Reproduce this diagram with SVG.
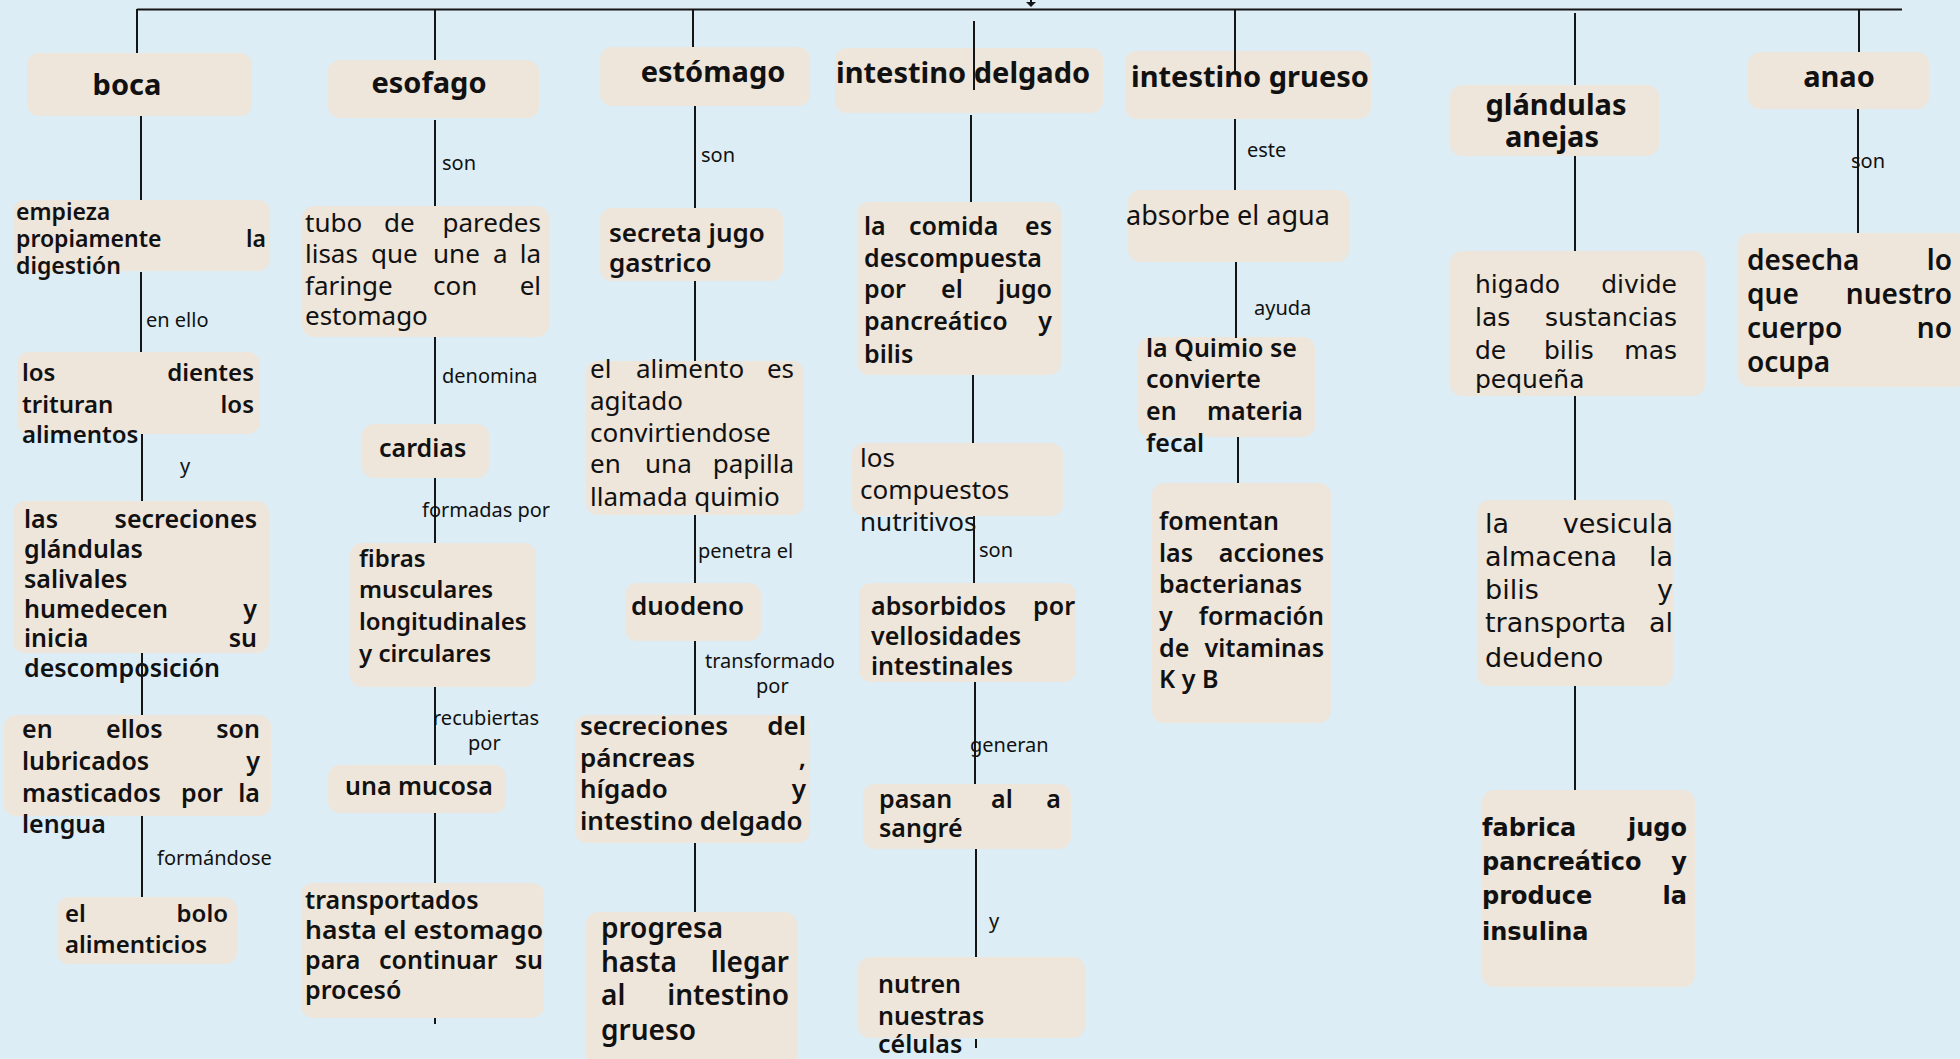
<svg xmlns="http://www.w3.org/2000/svg" width="1960" height="1059" viewBox="0 0 1960 1059">
<style>
text{font-family:"Noto Sans","Open Sans","Liberation Sans",sans-serif;fill:#111}
.box{fill:#EEE5DB}
.h{font-size:29px;font-weight:700}
.s{font-weight:600}
.r{font-weight:400}
.lbl{font-size:20px;font-weight:400}
.e{text-anchor:end}
.m{text-anchor:middle}
.dv{font-family:"DejaVu Sans","Noto Sans",sans-serif}
.ln{stroke:#151515;stroke-width:2;fill:none}
</style>
<rect width="1960" height="1059" fill="#DCEDF5"/>

<g id="boca"><rect class="box" x="27" y="53" width="225" height="63" rx="12"/><text class="h m" x="127" y="95">boca</text></g>
<g id="n_empieza" class="s" font-size="23"><rect class="box" x="13" y="200" width="257" height="71" rx="12"/>
<text x="16" y="220">empieza</text><text x="16" y="247">propiamente</text><text class="e" x="266" y="247">la</text><text x="16" y="274">digestión</text></g>
<g id="n_dientes" class="s" font-size="24"><rect class="box" x="17" y="352" width="243" height="82" rx="12"/>
<text x="22" y="381">los</text><text class="e" x="254" y="381">dientes</text><text x="22" y="413">trituran</text><text class="e" x="254" y="413">los</text><text x="22" y="443">alimentos</text></g>
<g id="n_secreciones" class="s" font-size="25"><rect class="box" x="13" y="501" width="256" height="152" rx="12"/>
<text x="24" y="528">las</text><text class="e" x="257" y="528">secreciones</text><text x="24" y="558">glándulas</text><text x="24" y="588">salivales</text><text x="24" y="618">humedecen</text><text class="e" x="257" y="618">y</text><text x="24" y="647">inicia</text><text class="e" x="257" y="647">su</text><text x="24" y="677">descomposición</text></g>
<g id="n_lubricados" class="s" font-size="25"><rect class="box" x="4" y="715" width="267" height="101" rx="12"/>
<text x="22" y="738">en</text><text x="106" y="738">ellos</text><text class="e" x="260" y="738">son</text><text x="22" y="770">lubricados</text><text class="e" x="260" y="770">y</text><text x="22" y="802">masticados</text><text x="181" y="802">por</text><text class="e" x="260" y="802">la</text><text x="22" y="833">lengua</text></g>
<g id="n_bolo" class="s" font-size="24"><rect class="box" x="57" y="897" width="180" height="67" rx="12"/>
<text x="65" y="922">el</text><text class="e" x="228" y="922">bolo</text><text x="65" y="953">alimenticios</text></g>

<g id="esofago"><rect class="box" x="328" y="60" width="211" height="58" rx="12"/><text class="h m" x="429" y="93">esofago</text></g>
<g id="n_tubo" class="r" font-size="26"><rect class="box" x="302" y="206" width="247" height="131" rx="12"/>
<text x="305" y="232">tubo</text><text x="384" y="232">de</text><text class="e" x="541" y="232">paredes</text>
<text x="305" y="263">lisas</text><text x="371" y="263">que</text><text x="433" y="263">une</text><text x="493" y="263">a</text><text class="e" x="541" y="263">la</text>
<text x="305" y="295">faringe</text><text x="433" y="295">con</text><text class="e" x="541" y="295">el</text><text x="305" y="325">estomago</text></g>
<g id="n_cardias" class="s" font-size="25"><rect class="box" x="362" y="424" width="127" height="54" rx="12"/><text x="379" y="457">cardias</text></g>
<g id="n_fibras" class="s" font-size="24"><rect class="box" x="350" y="543" width="186" height="144" rx="12"/>
<text x="359" y="567">fibras</text><text x="359" y="598">musculares</text><text x="359" y="630">longitudinales</text><text x="359" y="662">y circulares</text></g>
<g id="n_mucosa" class="s" font-size="25"><rect class="box" x="328" y="765" width="178" height="48" rx="12"/><text x="345" y="795">una mucosa</text></g>
<g id="n_transportados" class="s" font-size="25"><rect class="box" x="301" y="883" width="243" height="135" rx="12"/>
<text x="305" y="909">transportados</text><text x="305" y="939" textLength="238" lengthAdjust="spacingAndGlyphs">hasta el estomago</text>
<text x="305" y="969">para</text><text x="379" y="969">continuar</text><text class="e" x="543" y="969">su</text><text x="305" y="999">procesó</text></g>

<g id="estomago"><rect class="box" x="600" y="47" width="210" height="59" rx="12"/><text class="h m" x="713" y="82">estómago</text></g>
<g id="n_secreta" class="s" font-size="26"><rect class="box" x="600" y="208" width="183" height="73" rx="12"/>
<text x="609" y="242">secreta jugo</text><text x="609" y="272">gastrico</text></g>
<g id="n_alimento" class="r" font-size="26"><rect class="box" x="586" y="361" width="218" height="154" rx="12"/>
<text x="590" y="378">el</text><text x="636" y="378">alimento</text><text class="e" x="794" y="378">es</text><text x="590" y="410">agitado</text><text x="590" y="442">convirtiendose</text>
<text x="590" y="473">en</text><text x="645" y="473">una</text><text class="e" x="794" y="473">papilla</text><text x="590" y="506">llamada quimio</text></g>
<g id="n_duodeno" class="s" font-size="26"><rect class="box" x="625" y="583" width="136" height="58" rx="12"/><text x="631" y="615">duodeno</text></g>
<g id="n_pancreas" class="s" font-size="26"><rect class="box" x="575" y="715" width="235" height="128" rx="12"/>
<text x="580" y="735">secreciones</text><text class="e" x="806" y="735">del</text><text x="580" y="767">páncreas</text><text class="e" x="806" y="767">,</text>
<text x="580" y="798">hígado</text><text class="e" x="806" y="798">y</text><text x="580" y="830">intestino delgado</text></g>
<g id="n_progresa" class="s" font-size="28"><rect class="box" x="586" y="912" width="211" height="160" rx="12"/>
<text x="601" y="938">progresa</text><text x="601" y="972">hasta</text><text class="e" x="789" y="972">llegar</text><text x="601" y="1005">al</text><text class="e" x="789" y="1005">intestino</text><text x="601" y="1040">grueso</text></g>

<g id="intestino_delgado"><rect class="box" x="835" y="48" width="268" height="65" rx="12"/><text class="h" x="836" y="83">intestino delgado</text></g>
<g id="n_comida" class="s" font-size="25"><rect class="box" x="857" y="202" width="204" height="173" rx="12"/>
<text x="864" y="235">la</text><text x="909" y="235">comida</text><text class="e" x="1052" y="235">es</text><text x="864" y="267">descompuesta</text>
<text x="864" y="298">por</text><text x="941" y="298">el</text><text class="e" x="1052" y="298">jugo</text><text x="864" y="330">pancreático</text><text class="e" x="1052" y="330">y</text><text x="864" y="363">bilis</text></g>
<g id="n_compuestos" class="r" font-size="26"><rect class="box" x="852" y="443" width="211" height="73" rx="12"/>
<text x="860" y="467">los</text><text x="860" y="499">compuestos</text><text x="860" y="531">nutritivos</text></g>
<g id="n_absorbidos" class="s" font-size="25"><rect class="box" x="859" y="583" width="217" height="99" rx="12"/>
<text x="871" y="615">absorbidos</text><text class="e" x="1075" y="615">por</text><text x="871" y="645">vellosidades</text><text x="871" y="675">intestinales</text></g>
<g id="n_sangre" class="s" font-size="25"><rect class="box" x="863" y="784" width="208" height="65" rx="12"/>
<text x="879" y="808">pasan</text><text x="991" y="808">al</text><text class="e" x="1061" y="808">a</text><text x="879" y="837">sangré</text></g>
<g id="n_nutren" class="s" font-size="25"><rect class="box" x="858" y="957" width="227" height="81" rx="12"/>
<text x="878" y="993">nutren</text><text x="878" y="1025">nuestras</text><text x="878" y="1053">células</text></g>

<g id="intestino_grueso"><rect class="box" x="1125" y="51" width="246" height="68" rx="12"/><text class="h" x="1131" y="87">intestino grueso</text></g>
<g id="n_agua" class="r" font-size="27"><rect class="box" x="1128" y="190" width="221" height="72" rx="12"/><text x="1126" y="225">absorbe el agua</text></g>
<g id="n_quimio" class="s" font-size="25"><rect class="box" x="1138" y="337" width="177" height="100" rx="12"/>
<text x="1146" y="357">la Quimio se</text><text x="1146" y="388">convierte</text><text x="1146" y="420">en</text><text class="e" x="1303" y="420">materia</text><text x="1146" y="452">fecal</text></g>
<g id="n_fomentan" class="s" font-size="25"><rect class="box" x="1152" y="483" width="179" height="240" rx="12"/>
<text x="1159" y="530">fomentan</text><text x="1159" y="562">las</text><text class="e" x="1324" y="562">acciones</text><text x="1159" y="593">bacterianas</text>
<text x="1159" y="625">y</text><text class="e" x="1324" y="625">formación</text><text x="1159" y="657">de</text><text class="e" x="1324" y="657">vitaminas</text><text x="1159" y="688">K y B</text></g>

<g id="glandulas_anejas"><rect class="box" x="1450" y="85" width="209" height="71" rx="12"/><text class="h m" x="1556" y="115">glándulas</text><text class="h m" x="1552" y="147">anejas</text></g>
<g id="n_higado" class="r dv" font-size="25"><rect class="box" x="1450" y="251" width="255" height="145" rx="12"/>
<text class="dv" x="1475" y="293">higado</text><text class="dv e" x="1677" y="293">divide</text><text class="dv" x="1475" y="326">las</text><text class="dv e" x="1677" y="326">sustancias</text>
<text class="dv" x="1475" y="359">de</text><text class="dv" x="1544" y="359">bilis</text><text class="dv e" x="1677" y="359">mas</text><text class="dv" x="1475" y="388">pequeña</text></g>
<g id="n_vesicula" class="r" font-size="27"><rect class="box" x="1477" y="500" width="196" height="186" rx="12"/>
<text class="dv" x="1485" y="533">la</text><text class="dv e" x="1673" y="533">vesicula</text><text class="dv" x="1485" y="566">almacena</text><text class="dv e" x="1673" y="566">la</text>
<text class="dv" x="1485" y="599">bilis</text><text class="dv e" x="1673" y="599">y</text><text class="dv" x="1485" y="632">transporta</text><text class="dv e" x="1673" y="632">al</text><text class="dv" x="1485" y="667">deudeno</text></g>
<g id="n_fabrica" font-size="24" font-weight="700"><rect class="box" x="1482" y="790" width="213" height="197" rx="12"/>
<text class="dv" x="1482" y="836">fabrica</text><text class="dv e" x="1687" y="836">jugo</text><text class="dv" x="1482" y="870">pancreático</text><text class="dv e" x="1687" y="870">y</text>
<text class="dv" x="1482" y="904">produce</text><text class="dv e" x="1687" y="904">la</text><text class="dv" x="1482" y="940">insulina</text></g>

<g id="anao"><rect class="box" x="1748" y="52" width="181" height="57" rx="12"/><text class="h m" x="1839" y="87">anao</text></g>
<g id="n_desecha" class="s" font-size="28"><rect class="box" x="1738" y="233" width="230" height="154" rx="12"/>
<text x="1747" y="270">desecha</text><text class="e" x="1952" y="270">lo</text><text x="1747" y="304">que</text><text class="e" x="1952" y="304">nuestro</text>
<text x="1747" y="338">cuerpo</text><text class="e" x="1952" y="338">no</text><text x="1747" y="372">ocupa</text></g>

<g id="connectors">
<path class="ln" stroke-width="2.5" d="M137 9.5H1902"/>
<path class="ln" d="M1031 0V3"/><polygon points="1026,2 1036,2 1031,7" fill="#151515"/>
<path class="ln" d="M137 9V53M435 9V60M693 9V47M1235 9V72M1575 13V85M1859 9V52M974 21V90"/>
<path class="ln" d="M141 116V200M141 272V352M142 434V501M142 653V715M142 816V897"/>
<path class="ln" d="M435 120V206M435 337V424M435 478V543M435 687V765M435 813V883M435 1018V1024"/>
<path class="ln" d="M695 106V208M695 281V361M695 515V583M695 641V715M695 843V912"/>
<path class="ln" d="M971 115V202M973 375V443M974 516V583M975 682V784M976 849V957M976 1039V1048"/>
<path class="ln" d="M1235 119V190M1236 262V338M1238 437V483"/>
<path class="ln" d="M1575 156V251M1575 396V500M1575 686V790"/>
<path class="ln" d="M1858 109V233"/>
<g class="lbl">
<text class="lbl" x="146" y="327">en ello</text>
<text class="lbl" x="180" y="473">y</text>
<text class="lbl" x="157" y="865">formándose</text>
<text class="lbl" x="442" y="170">son</text>
<text class="lbl" x="442" y="383">denomina</text>
<text class="lbl" x="422" y="517">formadas por</text>
<text class="lbl" x="433" y="725">recubiertas</text>
<text class="lbl" x="468" y="750">por</text>
<text class="lbl" x="701" y="162">son</text>
<text class="lbl" x="698" y="558">penetra el</text>
<text class="lbl" x="705" y="668">transformado</text>
<text class="lbl" x="756" y="693">por</text>
<text class="lbl" x="979" y="557">son</text>
<text class="lbl" x="970" y="752">generan</text>
<text class="lbl" x="989" y="928">y</text>
<text class="lbl" x="1247" y="157">este</text>
<text class="lbl" x="1254" y="315">ayuda</text>
<text class="lbl" x="1851" y="168">son</text>
</g>
</g>
</svg>
